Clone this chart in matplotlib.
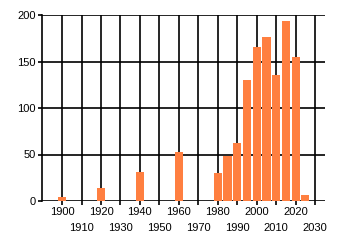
import matplotlib
matplotlib.use("Agg")
import matplotlib.pyplot as plt

years = [1900, 1920, 1940, 1960, 1980, 1985, 1990, 1995, 2000, 2005, 2010, 2015, 2020, 2025]
values = [4, 14, 31, 53, 30, 48, 62, 130, 166, 176, 135, 194, 155, 6]
major_ticks = [1900, 1920, 1940, 1960, 1980, 2000, 2020]
minor_ticks = [1910, 1930, 1950, 1970, 1990, 2010, 2030]
yticks = [0, 50, 100, 150, 200]

plt.rcParams['font.family'] = ['Liberation Sans', 'DejaVu Sans']
fig = plt.figure(figsize=(3.4, 2.45), dpi=100)
ax = fig.add_axes([42/340, 1-201/245, (325-42)/340, (201-15)/245])

ax.bar(years, values, width=4.2, color='#FF7F40', zorder=3)
ax.set_xlim(1889.7, 2035.1)
ax.set_ylim(0, 200)
ax.set_xticks(major_ticks)
ax.set_xticklabels([str(t) for t in major_ticks])
ax.set_xticks(minor_ticks, minor=True)
ax.set_xticklabels([str(t) for t in minor_ticks], minor=True)
ax.set_yticks(yticks)
ax.grid(True, which='both', axis='x', color='black', linewidth=1.2)
ax.grid(True, which='major', axis='y', color='black', linewidth=1.2)
ax.set_axisbelow(True)
for s in ['top', 'right', 'bottom']:
    ax.spines[s].set_visible(False)
ax.spines['left'].set_linewidth(1.2)
ax.tick_params(axis='both', which='major', length=3, width=1.2, labelsize=8, pad=1.5, colors='black')
ax.tick_params(axis='x', which='minor', length=3, width=1.2, labelsize=8, pad=12.5, colors='black')

fig.savefig('out.png', dpi=100)
